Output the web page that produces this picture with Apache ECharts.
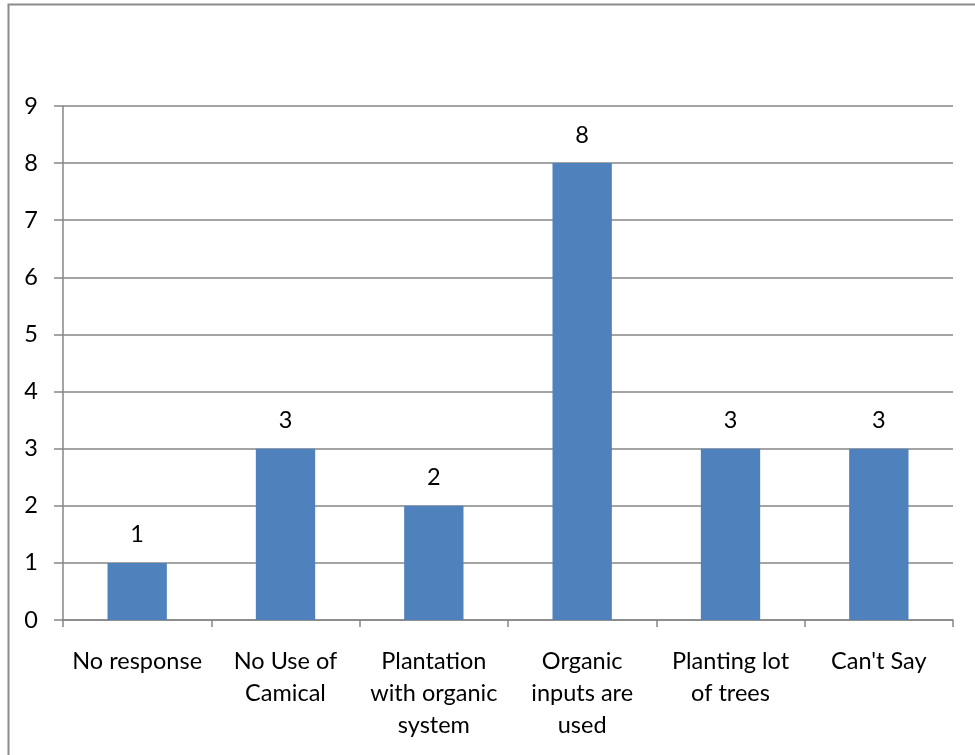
<!DOCTYPE html>
<html><head><meta charset="utf-8">
<script src="https://cdn.jsdelivr.net/npm/echarts@6/dist/echarts.min.js"></script>
<style>html,body{margin:0;padding:0;background:#fff}#c{width:975px;height:755px}</style>
</head><body><div id="c"></div>
<script>
const categories = ["No response", "No Use of\nCamical", "Plantation\nwith organic\nsystem", "Organic\ninputs are\nused", "Planting lot\nof trees", "Can't Say"];
const values = [1, 3, 2, 8, 3, 3];
const yTicks = [0, 1, 2, 3, 4, 5, 6, 7, 8, 9];

const chart = echarts.init(document.getElementById('c'), null, {renderer: 'canvas'});
const font = 'Lato, "Open Sans", sans-serif';
chart.setOption({
  animation: false,
  graphic: [{
    type: 'rect', shape: {x: 8.5, y: 4.5, width: 1000, height: 800},
    style: {fill: 'none', stroke: '#8c8c8c', lineWidth: 2}, silent: true
  }],
  grid: {left: 63, right: 22, top: 106, bottom: 135, containLabel: false},
  xAxis: {
    type: 'category', data: categories,
    axisLine: {show: true, lineStyle: {color: '#868686', width: 1.5}},
    axisTick: {show: true, alignWithLabel: false, length: 7, lineStyle: {color: '#868686', width: 1.5}},
    axisLabel: {color: '#000', fontFamily: font, fontSize: 23.5, lineHeight: 32, margin: 25, interval: 0}
  },
  yAxis: {
    type: 'value', min: yTicks[0], max: yTicks[yTicks.length - 1], interval: 1,
    axisLine: {show: true, lineStyle: {color: '#868686', width: 1.5}},
    axisTick: {show: true, length: 9, lineStyle: {color: '#868686', width: 1.5}},
    splitLine: {show: true, lineStyle: {color: '#868686', width: 1.5}},
    axisLabel: {color: '#000', fontFamily: font, fontSize: 23.5, margin: 25}
  },
  series: [{
    type: 'bar', data: values, barWidth: '40%',
    itemStyle: {color: '#4F81BD'},
    label: {show: true, position: 'top', distance: 16, color: '#000', fontFamily: font, fontSize: 23.5}
  }]
});
</script></body></html>
